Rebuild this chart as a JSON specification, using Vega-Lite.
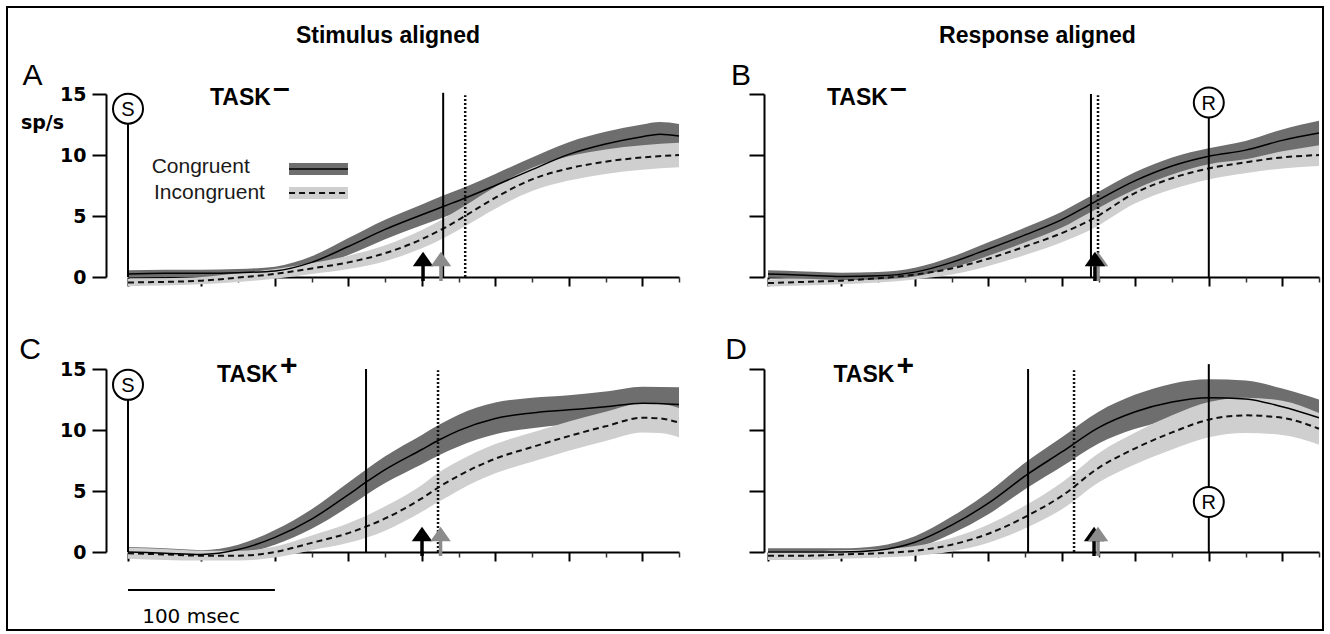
{
"$schema":"https://vega.github.io/schema/vega-lite/v6.json",
"autosize":{"type":"pad"},
"padding":{"left":6,"top":6,"right":6,"bottom":3},
"background":"white",
"columns":2,
"spacing":{"row":92,"column":89},
"bounds":"flush",
"datasets":{
"curves":[
{"p":"A","c":"Congruent","t":0,"m":0.25,"lo":-0.05,"hi":0.55},
{"p":"A","c":"Congruent","t":25,"m":0.3,"lo":0,"hi":0.6},
{"p":"A","c":"Congruent","t":50,"m":0.3,"lo":0,"hi":0.6},
{"p":"A","c":"Congruent","t":75,"m":0.35,"lo":0.05,"hi":0.65},
{"p":"A","c":"Congruent","t":100,"m":0.5,"lo":0.15,"hi":0.85},
{"p":"A","c":"Congruent","t":125,"m":1.2,"lo":0.7,"hi":1.7},
{"p":"A","c":"Congruent","t":150,"m":2.5,"lo":1.8,"hi":3.2},
{"p":"A","c":"Congruent","t":175,"m":3.9,"lo":3.1,"hi":4.7},
{"p":"A","c":"Congruent","t":200,"m":5.1,"lo":4.25,"hi":5.95},
{"p":"A","c":"Congruent","t":215,"m":5.8,"lo":4.9,"hi":6.7},
{"p":"A","c":"Congruent","t":230,"m":6.5,"lo":5.6,"hi":7.4},
{"p":"A","c":"Congruent","t":250,"m":7.5,"lo":6.55,"hi":8.45},
{"p":"A","c":"Congruent","t":275,"m":8.8,"lo":7.8,"hi":9.8},
{"p":"A","c":"Congruent","t":300,"m":10.05,"lo":9.05,"hi":11.05},
{"p":"A","c":"Congruent","t":325,"m":10.9,"lo":9.9,"hi":11.9},
{"p":"A","c":"Congruent","t":350,"m":11.5,"lo":10.5,"hi":12.5},
{"p":"A","c":"Congruent","t":362,"m":11.7,"lo":10.7,"hi":12.7},
{"p":"A","c":"Congruent","t":375,"m":11.55,"lo":10.55,"hi":12.55},
{"p":"A","c":"Incongruent","t":0,"m":-0.45,"lo":-0.75,"hi":-0.15},
{"p":"A","c":"Incongruent","t":25,"m":-0.4,"lo":-0.7,"hi":-0.1},
{"p":"A","c":"Incongruent","t":50,"m":-0.3,"lo":-0.6,"hi":0},
{"p":"A","c":"Incongruent","t":75,"m":-0.05,"lo":-0.4,"hi":0.3},
{"p":"A","c":"Incongruent","t":100,"m":0.25,"lo":-0.15,"hi":0.65},
{"p":"A","c":"Incongruent","t":125,"m":0.7,"lo":0.25,"hi":1.15},
{"p":"A","c":"Incongruent","t":150,"m":1.2,"lo":0.65,"hi":1.75},
{"p":"A","c":"Incongruent","t":175,"m":1.95,"lo":1.3,"hi":2.6},
{"p":"A","c":"Incongruent","t":200,"m":3.1,"lo":2.35,"hi":3.85},
{"p":"A","c":"Incongruent","t":215,"m":4.0,"lo":3.2,"hi":4.8},
{"p":"A","c":"Incongruent","t":230,"m":5.05,"lo":4.2,"hi":5.9},
{"p":"A","c":"Incongruent","t":250,"m":6.5,"lo":5.6,"hi":7.4},
{"p":"A","c":"Incongruent","t":275,"m":8.0,"lo":7.05,"hi":8.95},
{"p":"A","c":"Incongruent","t":300,"m":8.9,"lo":7.9,"hi":9.9},
{"p":"A","c":"Incongruent","t":325,"m":9.45,"lo":8.45,"hi":10.45},
{"p":"A","c":"Incongruent","t":350,"m":9.8,"lo":8.8,"hi":10.8},
{"p":"A","c":"Incongruent","t":375,"m":10.0,"lo":9.0,"hi":11.0},
{"p":"B","c":"Congruent","t":-300,"m":0.25,"lo":-0.05,"hi":0.55},
{"p":"B","c":"Congruent","t":-275,"m":0.15,"lo":-0.15,"hi":0.45},
{"p":"B","c":"Congruent","t":-250,"m":0.05,"lo":-0.25,"hi":0.35},
{"p":"B","c":"Congruent","t":-225,"m":0.1,"lo":-0.2,"hi":0.4},
{"p":"B","c":"Congruent","t":-200,"m":0.4,"lo":0.05,"hi":0.75},
{"p":"B","c":"Congruent","t":-175,"m":1.2,"lo":0.75,"hi":1.65},
{"p":"B","c":"Congruent","t":-150,"m":2.3,"lo":1.75,"hi":2.85},
{"p":"B","c":"Congruent","t":-125,"m":3.45,"lo":2.85,"hi":4.05},
{"p":"B","c":"Congruent","t":-100,"m":4.7,"lo":4.05,"hi":5.35},
{"p":"B","c":"Congruent","t":-80,"m":6.0,"lo":5.35,"hi":6.65},
{"p":"B","c":"Congruent","t":-50,"m":7.9,"lo":7.2,"hi":8.6},
{"p":"B","c":"Congruent","t":-25,"m":9.1,"lo":8.4,"hi":9.8},
{"p":"B","c":"Congruent","t":0,"m":9.9,"lo":9.25,"hi":10.55},
{"p":"B","c":"Congruent","t":25,"m":10.4,"lo":9.65,"hi":11.15},
{"p":"B","c":"Congruent","t":50,"m":11.2,"lo":10.3,"hi":12.1},
{"p":"B","c":"Congruent","t":75,"m":11.8,"lo":10.8,"hi":12.8},
{"p":"B","c":"Incongruent","t":-300,"m":-0.5,"lo":-0.8,"hi":-0.2},
{"p":"B","c":"Incongruent","t":-275,"m":-0.4,"lo":-0.7,"hi":-0.1},
{"p":"B","c":"Incongruent","t":-250,"m":-0.3,"lo":-0.6,"hi":0},
{"p":"B","c":"Incongruent","t":-225,"m":-0.1,"lo":-0.45,"hi":0.25},
{"p":"B","c":"Incongruent","t":-200,"m":0.2,"lo":-0.2,"hi":0.6},
{"p":"B","c":"Incongruent","t":-175,"m":0.7,"lo":0.2,"hi":1.2},
{"p":"B","c":"Incongruent","t":-150,"m":1.5,"lo":0.9,"hi":2.1},
{"p":"B","c":"Incongruent","t":-125,"m":2.5,"lo":1.8,"hi":3.2},
{"p":"B","c":"Incongruent","t":-100,"m":3.6,"lo":2.85,"hi":4.35},
{"p":"B","c":"Incongruent","t":-80,"m":4.7,"lo":3.9,"hi":5.5},
{"p":"B","c":"Incongruent","t":-50,"m":6.9,"lo":6.05,"hi":7.75},
{"p":"B","c":"Incongruent","t":-25,"m":8.1,"lo":7.2,"hi":9.0},
{"p":"B","c":"Incongruent","t":0,"m":8.9,"lo":8.0,"hi":9.8},
{"p":"B","c":"Incongruent","t":25,"m":9.4,"lo":8.5,"hi":10.3},
{"p":"B","c":"Incongruent","t":50,"m":9.8,"lo":8.9,"hi":10.7},
{"p":"B","c":"Incongruent","t":75,"m":10.0,"lo":9.1,"hi":10.9},
{"p":"C","c":"Congruent","t":0,"m":0.0,"lo":-0.4,"hi":0.4},
{"p":"C","c":"Congruent","t":25,"m":-0.1,"lo":-0.5,"hi":0.3},
{"p":"C","c":"Congruent","t":50,"m":-0.2,"lo":-0.55,"hi":0.15},
{"p":"C","c":"Congruent","t":75,"m":0.2,"lo":-0.2,"hi":0.6},
{"p":"C","c":"Congruent","t":100,"m":1.2,"lo":0.6,"hi":1.8},
{"p":"C","c":"Congruent","t":125,"m":2.7,"lo":1.9,"hi":3.5},
{"p":"C","c":"Congruent","t":150,"m":4.7,"lo":3.7,"hi":5.7},
{"p":"C","c":"Congruent","t":163,"m":5.8,"lo":4.75,"hi":6.85},
{"p":"C","c":"Congruent","t":175,"m":6.75,"lo":5.65,"hi":7.85},
{"p":"C","c":"Congruent","t":200,"m":8.4,"lo":7.2,"hi":9.6},
{"p":"C","c":"Congruent","t":212,"m":9.2,"lo":7.95,"hi":10.45},
{"p":"C","c":"Congruent","t":225,"m":9.95,"lo":8.65,"hi":11.25},
{"p":"C","c":"Congruent","t":250,"m":10.95,"lo":9.65,"hi":12.25},
{"p":"C","c":"Congruent","t":275,"m":11.4,"lo":10.15,"hi":12.65},
{"p":"C","c":"Congruent","t":300,"m":11.65,"lo":10.45,"hi":12.85},
{"p":"C","c":"Congruent","t":325,"m":11.9,"lo":10.65,"hi":13.15},
{"p":"C","c":"Congruent","t":350,"m":12.2,"lo":10.85,"hi":13.55},
{"p":"C","c":"Congruent","t":375,"m":12.1,"lo":10.7,"hi":13.5},
{"p":"C","c":"Incongruent","t":0,"m":-0.1,"lo":-0.55,"hi":0.35},
{"p":"C","c":"Incongruent","t":25,"m":-0.2,"lo":-0.65,"hi":0.25},
{"p":"C","c":"Incongruent","t":50,"m":-0.3,"lo":-0.7,"hi":0.1},
{"p":"C","c":"Incongruent","t":75,"m":-0.3,"lo":-0.7,"hi":0.1},
{"p":"C","c":"Incongruent","t":100,"m":0.0,"lo":-0.45,"hi":0.45},
{"p":"C","c":"Incongruent","t":125,"m":0.75,"lo":0.15,"hi":1.35},
{"p":"C","c":"Incongruent","t":150,"m":1.55,"lo":0.75,"hi":2.35},
{"p":"C","c":"Incongruent","t":175,"m":2.75,"lo":1.75,"hi":3.75},
{"p":"C","c":"Incongruent","t":200,"m":4.4,"lo":3.3,"hi":5.5},
{"p":"C","c":"Incongruent","t":212,"m":5.35,"lo":4.15,"hi":6.55},
{"p":"C","c":"Incongruent","t":225,"m":6.25,"lo":5.05,"hi":7.45},
{"p":"C","c":"Incongruent","t":250,"m":7.65,"lo":6.45,"hi":8.85},
{"p":"C","c":"Incongruent","t":275,"m":8.6,"lo":7.4,"hi":9.8},
{"p":"C","c":"Incongruent","t":300,"m":9.5,"lo":8.3,"hi":10.7},
{"p":"C","c":"Incongruent","t":325,"m":10.3,"lo":9.1,"hi":11.5},
{"p":"C","c":"Incongruent","t":350,"m":11.0,"lo":9.8,"hi":12.2},
{"p":"C","c":"Incongruent","t":362,"m":10.95,"lo":9.75,"hi":12.15},
{"p":"C","c":"Incongruent","t":375,"m":10.6,"lo":9.4,"hi":11.8},
{"p":"D","c":"Congruent","t":-300,"m":0.0,"lo":-0.3,"hi":0.3},
{"p":"D","c":"Congruent","t":-275,"m":0.0,"lo":-0.3,"hi":0.3},
{"p":"D","c":"Congruent","t":-250,"m":0.0,"lo":-0.3,"hi":0.3},
{"p":"D","c":"Congruent","t":-225,"m":0.15,"lo":-0.2,"hi":0.5},
{"p":"D","c":"Congruent","t":-200,"m":0.8,"lo":0.3,"hi":1.3},
{"p":"D","c":"Congruent","t":-175,"m":2.2,"lo":1.5,"hi":2.9},
{"p":"D","c":"Congruent","t":-150,"m":4.0,"lo":3.1,"hi":4.9},
{"p":"D","c":"Congruent","t":-123,"m":6.4,"lo":5.3,"hi":7.5},
{"p":"D","c":"Congruent","t":-100,"m":8.2,"lo":7.0,"hi":9.4},
{"p":"D","c":"Congruent","t":-75,"m":10.2,"lo":8.9,"hi":11.5},
{"p":"D","c":"Congruent","t":-50,"m":11.5,"lo":10.1,"hi":12.9},
{"p":"D","c":"Congruent","t":-25,"m":12.3,"lo":10.8,"hi":13.8},
{"p":"D","c":"Congruent","t":0,"m":12.65,"lo":11.15,"hi":14.15},
{"p":"D","c":"Congruent","t":25,"m":12.55,"lo":11.05,"hi":14.05},
{"p":"D","c":"Congruent","t":50,"m":11.9,"lo":10.4,"hi":13.4},
{"p":"D","c":"Congruent","t":75,"m":11.0,"lo":9.5,"hi":12.5},
{"p":"D","c":"Incongruent","t":-300,"m":-0.3,"lo":-0.65,"hi":0.05},
{"p":"D","c":"Incongruent","t":-275,"m":-0.3,"lo":-0.65,"hi":0.05},
{"p":"D","c":"Incongruent","t":-250,"m":-0.2,"lo":-0.55,"hi":0.15},
{"p":"D","c":"Incongruent","t":-225,"m":-0.1,"lo":-0.45,"hi":0.25},
{"p":"D","c":"Incongruent","t":-200,"m":0.1,"lo":-0.3,"hi":0.5},
{"p":"D","c":"Incongruent","t":-175,"m":0.6,"lo":0.05,"hi":1.15},
{"p":"D","c":"Incongruent","t":-150,"m":1.5,"lo":0.75,"hi":2.25},
{"p":"D","c":"Incongruent","t":-123,"m":3.0,"lo":2.05,"hi":3.95},
{"p":"D","c":"Incongruent","t":-100,"m":4.6,"lo":3.5,"hi":5.7},
{"p":"D","c":"Incongruent","t":-75,"m":6.9,"lo":5.7,"hi":8.1},
{"p":"D","c":"Incongruent","t":-50,"m":8.5,"lo":7.2,"hi":9.8},
{"p":"D","c":"Incongruent","t":-25,"m":9.8,"lo":8.4,"hi":11.2},
{"p":"D","c":"Incongruent","t":0,"m":10.85,"lo":9.4,"hi":12.3},
{"p":"D","c":"Incongruent","t":25,"m":11.2,"lo":9.75,"hi":12.65},
{"p":"D","c":"Incongruent","t":50,"m":11.0,"lo":9.6,"hi":12.4},
{"p":"D","c":"Incongruent","t":75,"m":10.1,"lo":8.8,"hi":11.4}
],
"events":[
{"p":"A","k":"solid","t":214.5,"base":0,"top":15.1},
{"p":"A","k":"dotted","t":229.5,"base":0,"top":14.9},
{"p":"B","k":"solid","t":-80.2,"base":0,"top":15},
{"p":"B","k":"dotted","t":-75.4,"base":0,"top":14.9},
{"p":"C","k":"solid","t":162,"base":0,"top":15},
{"p":"C","k":"dotted","t":211,"base":0,"top":14.9},
{"p":"D","k":"solid","t":-123,"base":0,"top":15},
{"p":"D","k":"dotted","t":-91.7,"base":0,"top":14.9}
],
"markers":[
{"p":"A","label":"S","t":0,"cy":13.8,"base":0,"top":13.8},
{"p":"B","label":"R","t":0,"cy":14.3,"base":0,"top":14.3},
{"p":"C","label":"S","t":0,"cy":13.7,"base":0,"top":13.7},
{"p":"D","label":"R","t":0,"cy":4.1,"base":0,"top":15.4}
],
"arrows":[
{"p":"A","c":"Congruent","t":200.8,"base":0},
{"p":"A","c":"Incongruent","t":213,"base":0},
{"p":"B","c":"Incongruent","t":-75.4,"base":0},
{"p":"B","c":"Congruent","t":-77.5,"base":0},
{"p":"C","c":"Congruent","t":200.1,"base":0},
{"p":"C","c":"Incongruent","t":212.7,"base":0},
{"p":"D","c":"Congruent","t":-78.1,"base":0},
{"p":"D","c":"Incongruent","t":-75.4,"base":0}
],
"labels":[
{"p":"A","letter":"A","lt":-65,"lv":15.74,"task":"TASK","sup":"–","tt":55.8,"tv":14.1},
{"p":"B","letter":"B","lt":-318.4,"lv":15.74,"task":"TASK","sup":"–","tt":-259.85,"tv":14.1},
{"p":"C","letter":"C","lt":-66.7,"lv":15.8,"task":"TASK","sup":"+","tt":60.6,"tv":13.93},
{"p":"D","letter":"D","lt":-321.8,"lv":15.8,"task":"TASK","sup":"+","tt":-255.4,"tv":13.93}
],
"headers":[
{"p":"A","label":"Stimulus aligned","t":176.95,"v":19.18},
{"p":"B","label":"Response aligned","t":-116.6,"v":19.18}
],
"legend":[
{"c":"Congruent","label":"Congruent","tx":16.1,"tv":8.52,"t1":109.6,"t2":149.7,"lo":8.36,"hi":9.34,"m":8.85},
{"c":"Incongruent","label":"Incongruent","tx":17.7,"tv":6.39,"t1":109.6,"t2":149.7,"lo":6.39,"hi":7.38,"m":6.89}
],
"frame":[{"t1":-82.35,"t2":813.3,"v1":-28.93,"v2":22.13}],
"scalebar":[{"t1":0,"t2":100,"v":-3.11,"label":"100 msec","tl":42.9,"vl":-5.82}]
},
"concat":[
{
"width":551,"height":183,
"resolve":{"axis":{"x":"independent","y":"independent"}},
"layer":[
{"data":{"name":"frame"},"mark":{"type":"rect","filled":false,"stroke":"#000","strokeWidth":2},
 "encoding":{"x":{"field":"t1","type":"quantitative","axis":null},"x2":{"field":"t2"},"y":{"field":"v1","type":"quantitative","axis":null},"y2":{"field":"v2"}}},
{"data":{"name":"curves"},"transform":[{"filter":"datum.p==='A' && datum.c==='Congruent'"}],
 "mark":{"type":"area","interpolate":"monotone","fill":"#6e6e6e","opacity":1},
 "encoding":{
  "x":{"field":"t","type":"quantitative","scale":{"domain":[0,375],"nice":false,"zero":false},
       "axis":{"orient":"bottom","values":[0,50,100,150,200,250,300,350],"labels":false,"title":null,"grid":false,"domainWidth":2,"domainColor":"#000","tickWidth":2,"tickSize":9,"tickColor":"#000"}},
  "y":{"field":"lo","type":"quantitative","scale":{"domain":[0,15],"nice":false,"zero":false},
       "axis":{"orient":"left","offset":22,"values":[0,5,10,15],"grid":false,"title":"sp/s","titleAngle":0,"titleX":-64,"titleY":34,"titleAlign":"center","titleBaseline":"alphabetic","titleFont":"DejaVu Sans","titleFontSize":19,"titleFontWeight":"bold","titleColor":"#000","labelFont":"DejaVu Sans","labelFontSize":19,"labelFontWeight":"bold","labelColor":"#000","labelPadding":6,"labelFlush":false,"tickSize":14,"tickWidth":2,"tickColor":"#000","domainWidth":2,"domainColor":"#000"}},
  "y2":{"field":"hi"}}},
{"data":{"name":"curves"},"transform":[{"filter":"datum.p==='A' && datum.c==='Incongruent'"}],
 "mark":{"type":"area","interpolate":"monotone","fill":"#cfcfcf","opacity":1},
 "encoding":{"x":{"field":"t","type":"quantitative","axis":null},"y":{"field":"lo","type":"quantitative","axis":null},"y2":{"field":"hi"}}},
{"data":{"name":"curves"},"transform":[{"filter":"datum.p==='A' && datum.c==='Incongruent'"}],
 "mark":{"type":"line","interpolate":"monotone","stroke":"#111","strokeWidth":2,"strokeDash":[6,4]},
 "encoding":{"x":{"field":"t","type":"quantitative",
   "axis":{"orient":"bottom","values":[25,75,125,175,225,275,325,375],"labels":false,"title":null,"grid":false,"domain":false,"tickWidth":1.5,"tickSize":5,"tickColor":"#333"}},
  "y":{"field":"m","type":"quantitative","axis":null}}},
{"data":{"name":"curves"},"transform":[{"filter":"datum.p==='A' && datum.c==='Congruent'"}],
 "mark":{"type":"line","interpolate":"monotone","stroke":"#000","strokeWidth":1.5},
 "encoding":{"x":{"field":"t","type":"quantitative","axis":null},"y":{"field":"m","type":"quantitative","axis":null}}},
{"data":{"name":"legend"},"mark":{"type":"rect"},
 "encoding":{"x":{"field":"t1","type":"quantitative","axis":null},"x2":{"field":"t2"},"y":{"field":"lo","type":"quantitative","axis":null},"y2":{"field":"hi"},
  "fill":{"field":"c","type":"nominal","scale":{"domain":["Congruent","Incongruent"],"range":["#6e6e6e","#cfcfcf"]},"legend":null}}},
{"data":{"name":"legend"},"transform":[{"filter":"datum.c==='Congruent'"}],"mark":{"type":"rule","stroke":"#000","strokeWidth":1.5},
 "encoding":{"x":{"field":"t1","type":"quantitative","axis":null},"x2":{"field":"t2"},"y":{"field":"m","type":"quantitative","axis":null}}},
{"data":{"name":"legend"},"transform":[{"filter":"datum.c==='Incongruent'"}],"mark":{"type":"rule","stroke":"#111","strokeWidth":2,"strokeDash":[6,4]},
 "encoding":{"x":{"field":"t1","type":"quantitative","axis":null},"x2":{"field":"t2"},"y":{"field":"m","type":"quantitative","axis":null}}},
{"data":{"name":"legend"},"mark":{"type":"text","align":"left","baseline":"alphabetic","font":"Liberation Sans","fontSize":21,"color":"#1a1a1a"},
 "encoding":{"x":{"field":"tx","type":"quantitative","axis":null},"y":{"field":"tv","type":"quantitative","axis":null},"text":{"field":"label","type":"nominal"}}},
{"data":{"name":"events"},"transform":[{"filter":"datum.p==='A' && datum.k==='solid'"}],"mark":{"type":"rule","stroke":"#000","strokeWidth":2},
 "encoding":{"x":{"field":"t","type":"quantitative","axis":null},"y":{"field":"base","type":"quantitative","axis":null},"y2":{"field":"top"}}},
{"data":{"name":"events"},"transform":[{"filter":"datum.p==='A' && datum.k==='dotted'"}],"mark":{"type":"rule","stroke":"#111","strokeWidth":2.5,"strokeDash":[2,2]},
 "encoding":{"x":{"field":"t","type":"quantitative","axis":null},"y":{"field":"base","type":"quantitative","axis":null},"y2":{"field":"top"}}},
{"data":{"name":"markers"},"transform":[{"filter":"datum.p==='A'"}],"mark":{"type":"rule","stroke":"#000","strokeWidth":2},
 "encoding":{"x":{"field":"t","type":"quantitative","axis":null},"y":{"field":"base","type":"quantitative","axis":null},"y2":{"field":"top"}}},
{"data":{"name":"markers"},"transform":[{"filter":"datum.p==='A'"}],"mark":{"type":"point","shape":"circle","size":900,"filled":true,"fill":"#fff","stroke":"#000","strokeWidth":2,"opacity":1},
 "encoding":{"x":{"field":"t","type":"quantitative","axis":null},"y":{"field":"cy","type":"quantitative","axis":null}}},
{"data":{"name":"markers"},"transform":[{"filter":"datum.p==='A'"}],"mark":{"type":"text","align":"center","baseline":"middle","dy":1,"font":"Liberation Sans","fontSize":20,"color":"#000"},
 "encoding":{"x":{"field":"t","type":"quantitative","axis":null},"y":{"field":"cy","type":"quantitative","axis":null},"text":{"field":"label","type":"nominal"}}},
{"data":{"name":"arrows"},"transform":[{"filter":"datum.p==='A'"}],"mark":{"type":"rule","strokeWidth":3.5,"yOffset":4,"y2Offset":-14},
 "encoding":{"x":{"field":"t","type":"quantitative","axis":null},"y":{"field":"base","type":"quantitative","axis":null},"y2":{"field":"base"},
  "color":{"field":"c","type":"nominal","scale":{"domain":["Congruent","Incongruent"],"range":["#000000","#8c8c8c"]},"legend":null}}},
{"data":{"name":"arrows"},"transform":[{"filter":"datum.p==='A'"}],"mark":{"type":"point","shape":"M0,-0.8L1,0.6L-1,0.6Z","size":420,"filled":true,"opacity":1,"yOffset":-17},
 "encoding":{"x":{"field":"t","type":"quantitative","axis":null},"y":{"field":"base","type":"quantitative","axis":null},
  "color":{"field":"c","type":"nominal","scale":{"domain":["Congruent","Incongruent"],"range":["#000000","#8c8c8c"]},"legend":null}}},
{"data":{"name":"labels"},"transform":[{"filter":"datum.p==='A'"}],"mark":{"type":"text","align":"left","baseline":"alphabetic","font":"Liberation Sans","fontSize":23,"fontWeight":"bold","color":"#000"},
 "encoding":{"x":{"field":"tt","type":"quantitative","axis":null},"y":{"field":"tv","type":"quantitative","axis":null},"text":{"field":"task","type":"nominal"}}},
{"data":{"name":"labels"},"transform":[{"filter":"datum.p==='A'"}],"mark":{"type":"text","align":"left","baseline":"alphabetic","dx":63,"dy":-7,"font":"Liberation Sans","fontSize":30,"fontWeight":"bold","color":"#000"},
 "encoding":{"x":{"field":"tt","type":"quantitative","axis":null},"y":{"field":"tv","type":"quantitative","axis":null},"text":{"field":"sup","type":"nominal"}}},
{"data":{"name":"labels"},"transform":[{"filter":"datum.p==='A'"}],"mark":{"type":"text","align":"center","baseline":"alphabetic","font":"Liberation Sans","fontSize":30,"color":"#000"},
 "encoding":{"x":{"field":"lt","type":"quantitative","axis":null},"y":{"field":"lv","type":"quantitative","axis":null},"text":{"field":"letter","type":"nominal"}}},
{"data":{"name":"headers"},"transform":[{"filter":"datum.p==='A'"}],"mark":{"type":"text","align":"center","baseline":"alphabetic","font":"Liberation Sans","fontSize":23,"fontWeight":"bold","color":"#000"},
 "encoding":{"x":{"field":"t","type":"quantitative","axis":null},"y":{"field":"v","type":"quantitative","axis":null},"text":{"field":"label","type":"nominal"}}}
]
},
{
"width":551,"height":183,
"resolve":{"axis":{"x":"independent","y":"independent"}},
"layer":[
{"data":{"name":"curves"},"transform":[{"filter":"datum.p==='B' && datum.c==='Incongruent'"}],
 "mark":{"type":"area","interpolate":"monotone","fill":"#cfcfcf","opacity":1},
 "encoding":{
  "x":{"field":"t","type":"quantitative","scale":{"domain":[-300,75],"nice":false,"zero":false},
       "axis":{"orient":"bottom","values":[-300,-250,-200,-150,-100,-50,0,50],"labels":false,"title":null,"grid":false,"domainWidth":2,"domainColor":"#000","tickWidth":2,"tickSize":9,"tickColor":"#000"}},
  "y":{"field":"lo","type":"quantitative","scale":{"domain":[0,15],"nice":false,"zero":false},
       "axis":{"orient":"left","offset":4,"values":[0,5,10,15],"grid":false,"title":null,"labels":false,"tickSize":15,"tickWidth":2,"tickColor":"#000","domainWidth":2,"domainColor":"#000"}},
  "y2":{"field":"hi"}}},
{"data":{"name":"curves"},"transform":[{"filter":"datum.p==='B' && datum.c==='Congruent'"}],
 "mark":{"type":"area","interpolate":"monotone","fill":"#6e6e6e","opacity":1},
 "encoding":{"x":{"field":"t","type":"quantitative","axis":null},"y":{"field":"lo","type":"quantitative","axis":null},"y2":{"field":"hi"}}},
{"data":{"name":"curves"},"transform":[{"filter":"datum.p==='B' && datum.c==='Incongruent'"}],
 "mark":{"type":"line","interpolate":"monotone","stroke":"#111","strokeWidth":2,"strokeDash":[6,4]},
 "encoding":{"x":{"field":"t","type":"quantitative",
   "axis":{"orient":"bottom","values":[-275,-225,-175,-125,-75,-25,25,75],"labels":false,"title":null,"grid":false,"domain":false,"tickWidth":1.5,"tickSize":5,"tickColor":"#333"}},
  "y":{"field":"m","type":"quantitative","axis":null}}},
{"data":{"name":"curves"},"transform":[{"filter":"datum.p==='B' && datum.c==='Congruent'"}],
 "mark":{"type":"line","interpolate":"monotone","stroke":"#000","strokeWidth":1.5},
 "encoding":{"x":{"field":"t","type":"quantitative","axis":null},"y":{"field":"m","type":"quantitative","axis":null}}},
{"data":{"name":"events"},"transform":[{"filter":"datum.p==='B' && datum.k==='solid'"}],"mark":{"type":"rule","stroke":"#000","strokeWidth":2},
 "encoding":{"x":{"field":"t","type":"quantitative","axis":null},"y":{"field":"base","type":"quantitative","axis":null},"y2":{"field":"top"}}},
{"data":{"name":"events"},"transform":[{"filter":"datum.p==='B' && datum.k==='dotted'"}],"mark":{"type":"rule","stroke":"#111","strokeWidth":2.5,"strokeDash":[2,2]},
 "encoding":{"x":{"field":"t","type":"quantitative","axis":null},"y":{"field":"base","type":"quantitative","axis":null},"y2":{"field":"top"}}},
{"data":{"name":"markers"},"transform":[{"filter":"datum.p==='B'"}],"mark":{"type":"rule","stroke":"#000","strokeWidth":2},
 "encoding":{"x":{"field":"t","type":"quantitative","axis":null},"y":{"field":"base","type":"quantitative","axis":null},"y2":{"field":"top"}}},
{"data":{"name":"markers"},"transform":[{"filter":"datum.p==='B'"}],"mark":{"type":"point","shape":"circle","size":900,"filled":true,"fill":"#fff","stroke":"#000","strokeWidth":2,"opacity":1},
 "encoding":{"x":{"field":"t","type":"quantitative","axis":null},"y":{"field":"cy","type":"quantitative","axis":null}}},
{"data":{"name":"markers"},"transform":[{"filter":"datum.p==='B'"}],"mark":{"type":"text","align":"center","baseline":"middle","dy":1,"font":"Liberation Sans","fontSize":20,"color":"#000"},
 "encoding":{"x":{"field":"t","type":"quantitative","axis":null},"y":{"field":"cy","type":"quantitative","axis":null},"text":{"field":"label","type":"nominal"}}},
{"data":{"name":"arrows"},"transform":[{"filter":"datum.p==='B'"}],"mark":{"type":"rule","strokeWidth":3.5,"yOffset":4,"y2Offset":-14},
 "encoding":{"x":{"field":"t","type":"quantitative","axis":null},"y":{"field":"base","type":"quantitative","axis":null},"y2":{"field":"base"},
  "color":{"field":"c","type":"nominal","scale":{"domain":["Congruent","Incongruent"],"range":["#000000","#8c8c8c"]},"legend":null}}},
{"data":{"name":"arrows"},"transform":[{"filter":"datum.p==='B'"}],"mark":{"type":"point","shape":"M0,-0.8L1,0.6L-1,0.6Z","size":420,"filled":true,"opacity":1,"yOffset":-17},
 "encoding":{"x":{"field":"t","type":"quantitative","axis":null},"y":{"field":"base","type":"quantitative","axis":null},
  "color":{"field":"c","type":"nominal","scale":{"domain":["Congruent","Incongruent"],"range":["#000000","#8c8c8c"]},"legend":null}}},
{"data":{"name":"labels"},"transform":[{"filter":"datum.p==='B'"}],"mark":{"type":"text","align":"left","baseline":"alphabetic","font":"Liberation Sans","fontSize":23,"fontWeight":"bold","color":"#000"},
 "encoding":{"x":{"field":"tt","type":"quantitative","axis":null},"y":{"field":"tv","type":"quantitative","axis":null},"text":{"field":"task","type":"nominal"}}},
{"data":{"name":"labels"},"transform":[{"filter":"datum.p==='B'"}],"mark":{"type":"text","align":"left","baseline":"alphabetic","dx":63,"dy":-7,"font":"Liberation Sans","fontSize":30,"fontWeight":"bold","color":"#000"},
 "encoding":{"x":{"field":"tt","type":"quantitative","axis":null},"y":{"field":"tv","type":"quantitative","axis":null},"text":{"field":"sup","type":"nominal"}}},
{"data":{"name":"labels"},"transform":[{"filter":"datum.p==='B'"}],"mark":{"type":"text","align":"center","baseline":"alphabetic","font":"Liberation Sans","fontSize":30,"color":"#000"},
 "encoding":{"x":{"field":"lt","type":"quantitative","axis":null},"y":{"field":"lv","type":"quantitative","axis":null},"text":{"field":"letter","type":"nominal"}}},
{"data":{"name":"headers"},"transform":[{"filter":"datum.p==='B'"}],"mark":{"type":"text","align":"center","baseline":"alphabetic","font":"Liberation Sans","fontSize":23,"fontWeight":"bold","color":"#000"},
 "encoding":{"x":{"field":"t","type":"quantitative","axis":null},"y":{"field":"v","type":"quantitative","axis":null},"text":{"field":"label","type":"nominal"}}}
]
},
{
"width":551,"height":183,
"resolve":{"axis":{"x":"independent","y":"independent"}},
"layer":[
{"data":{"name":"curves"},"transform":[{"filter":"datum.p==='C' && datum.c==='Congruent'"}],
 "mark":{"type":"area","interpolate":"monotone","fill":"#6e6e6e","opacity":1},
 "encoding":{
  "x":{"field":"t","type":"quantitative","scale":{"domain":[0,375],"nice":false,"zero":false},
       "axis":{"orient":"bottom","values":[0,50,100,150,200,250,300,350],"labels":false,"title":null,"grid":false,"domainWidth":2,"domainColor":"#000","tickWidth":2,"tickSize":9,"tickColor":"#000"}},
  "y":{"field":"lo","type":"quantitative","scale":{"domain":[0,15],"nice":false,"zero":false},
       "axis":{"orient":"left","offset":22,"values":[0,5,10,15],"grid":false,"title":null,"labelFont":"DejaVu Sans","labelFontSize":19,"labelFontWeight":"bold","labelColor":"#000","labelPadding":6,"labelFlush":false,"tickSize":14,"tickWidth":2,"tickColor":"#000","domainWidth":2,"domainColor":"#000"}},
  "y2":{"field":"hi"}}},
{"data":{"name":"curves"},"transform":[{"filter":"datum.p==='C' && datum.c==='Incongruent'"}],
 "mark":{"type":"area","interpolate":"monotone","fill":"#cfcfcf","opacity":1},
 "encoding":{"x":{"field":"t","type":"quantitative","axis":null},"y":{"field":"lo","type":"quantitative","axis":null},"y2":{"field":"hi"}}},
{"data":{"name":"curves"},"transform":[{"filter":"datum.p==='C' && datum.c==='Incongruent'"}],
 "mark":{"type":"line","interpolate":"monotone","stroke":"#111","strokeWidth":2,"strokeDash":[6,4]},
 "encoding":{"x":{"field":"t","type":"quantitative",
   "axis":{"orient":"bottom","values":[25,75,125,175,225,275,325,375],"labels":false,"title":null,"grid":false,"domain":false,"tickWidth":1.5,"tickSize":5,"tickColor":"#333"}},
  "y":{"field":"m","type":"quantitative","axis":null}}},
{"data":{"name":"curves"},"transform":[{"filter":"datum.p==='C' && datum.c==='Congruent'"}],
 "mark":{"type":"line","interpolate":"monotone","stroke":"#000","strokeWidth":1.5},
 "encoding":{"x":{"field":"t","type":"quantitative","axis":null},"y":{"field":"m","type":"quantitative","axis":null}}},
{"data":{"name":"events"},"transform":[{"filter":"datum.p==='C' && datum.k==='solid'"}],"mark":{"type":"rule","stroke":"#000","strokeWidth":2},
 "encoding":{"x":{"field":"t","type":"quantitative","axis":null},"y":{"field":"base","type":"quantitative","axis":null},"y2":{"field":"top"}}},
{"data":{"name":"events"},"transform":[{"filter":"datum.p==='C' && datum.k==='dotted'"}],"mark":{"type":"rule","stroke":"#111","strokeWidth":2.5,"strokeDash":[2,2]},
 "encoding":{"x":{"field":"t","type":"quantitative","axis":null},"y":{"field":"base","type":"quantitative","axis":null},"y2":{"field":"top"}}},
{"data":{"name":"markers"},"transform":[{"filter":"datum.p==='C'"}],"mark":{"type":"rule","stroke":"#000","strokeWidth":2},
 "encoding":{"x":{"field":"t","type":"quantitative","axis":null},"y":{"field":"base","type":"quantitative","axis":null},"y2":{"field":"top"}}},
{"data":{"name":"markers"},"transform":[{"filter":"datum.p==='C'"}],"mark":{"type":"point","shape":"circle","size":900,"filled":true,"fill":"#fff","stroke":"#000","strokeWidth":2,"opacity":1},
 "encoding":{"x":{"field":"t","type":"quantitative","axis":null},"y":{"field":"cy","type":"quantitative","axis":null}}},
{"data":{"name":"markers"},"transform":[{"filter":"datum.p==='C'"}],"mark":{"type":"text","align":"center","baseline":"middle","dy":1,"font":"Liberation Sans","fontSize":20,"color":"#000"},
 "encoding":{"x":{"field":"t","type":"quantitative","axis":null},"y":{"field":"cy","type":"quantitative","axis":null},"text":{"field":"label","type":"nominal"}}},
{"data":{"name":"arrows"},"transform":[{"filter":"datum.p==='C'"}],"mark":{"type":"rule","strokeWidth":3.5,"yOffset":4,"y2Offset":-14},
 "encoding":{"x":{"field":"t","type":"quantitative","axis":null},"y":{"field":"base","type":"quantitative","axis":null},"y2":{"field":"base"},
  "color":{"field":"c","type":"nominal","scale":{"domain":["Congruent","Incongruent"],"range":["#000000","#8c8c8c"]},"legend":null}}},
{"data":{"name":"arrows"},"transform":[{"filter":"datum.p==='C'"}],"mark":{"type":"point","shape":"M0,-0.8L1,0.6L-1,0.6Z","size":420,"filled":true,"opacity":1,"yOffset":-17},
 "encoding":{"x":{"field":"t","type":"quantitative","axis":null},"y":{"field":"base","type":"quantitative","axis":null},
  "color":{"field":"c","type":"nominal","scale":{"domain":["Congruent","Incongruent"],"range":["#000000","#8c8c8c"]},"legend":null}}},
{"data":{"name":"labels"},"transform":[{"filter":"datum.p==='C'"}],"mark":{"type":"text","align":"left","baseline":"alphabetic","font":"Liberation Sans","fontSize":23,"fontWeight":"bold","color":"#000"},
 "encoding":{"x":{"field":"tt","type":"quantitative","axis":null},"y":{"field":"tv","type":"quantitative","axis":null},"text":{"field":"task","type":"nominal"}}},
{"data":{"name":"labels"},"transform":[{"filter":"datum.p==='C'"}],"mark":{"type":"text","align":"left","baseline":"alphabetic","dx":63,"dy":-7,"font":"Liberation Sans","fontSize":30,"fontWeight":"bold","color":"#000"},
 "encoding":{"x":{"field":"tt","type":"quantitative","axis":null},"y":{"field":"tv","type":"quantitative","axis":null},"text":{"field":"sup","type":"nominal"}}},
{"data":{"name":"labels"},"transform":[{"filter":"datum.p==='C'"}],"mark":{"type":"text","align":"center","baseline":"alphabetic","font":"Liberation Sans","fontSize":30,"color":"#000"},
 "encoding":{"x":{"field":"lt","type":"quantitative","axis":null},"y":{"field":"lv","type":"quantitative","axis":null},"text":{"field":"letter","type":"nominal"}}},
{"data":{"name":"scalebar"},"mark":{"type":"rule","stroke":"#000","strokeWidth":2},
 "encoding":{"x":{"field":"t1","type":"quantitative","axis":null},"x2":{"field":"t2"},"y":{"field":"v","type":"quantitative","axis":null}}},
{"data":{"name":"scalebar"},"mark":{"type":"text","align":"center","baseline":"alphabetic","font":"DejaVu Sans","fontSize":20,"color":"#000"},
 "encoding":{"x":{"field":"tl","type":"quantitative","axis":null},"y":{"field":"vl","type":"quantitative","axis":null},"text":{"field":"label","type":"nominal"}}}
]
},
{
"width":551,"height":183,
"resolve":{"axis":{"x":"independent","y":"independent"}},
"layer":[
{"data":{"name":"curves"},"transform":[{"filter":"datum.p==='D' && datum.c==='Congruent'"}],
 "mark":{"type":"area","interpolate":"monotone","fill":"#6e6e6e","opacity":1},
 "encoding":{
  "x":{"field":"t","type":"quantitative","scale":{"domain":[-300,75],"nice":false,"zero":false},
       "axis":{"orient":"bottom","values":[-300,-250,-200,-150,-100,-50,0,50],"labels":false,"title":null,"grid":false,"domainWidth":2,"domainColor":"#000","tickWidth":2,"tickSize":9,"tickColor":"#000"}},
  "y":{"field":"lo","type":"quantitative","scale":{"domain":[0,15],"nice":false,"zero":false},
       "axis":{"orient":"left","offset":4,"values":[0,5,10,15],"grid":false,"title":null,"labels":false,"tickSize":15,"tickWidth":2,"tickColor":"#000","domainWidth":2,"domainColor":"#000"}},
  "y2":{"field":"hi"}}},
{"data":{"name":"curves"},"transform":[{"filter":"datum.p==='D' && datum.c==='Incongruent'"}],
 "mark":{"type":"area","interpolate":"monotone","fill":"#cfcfcf","opacity":1},
 "encoding":{"x":{"field":"t","type":"quantitative","axis":null},"y":{"field":"lo","type":"quantitative","axis":null},"y2":{"field":"hi"}}},
{"data":{"name":"curves"},"transform":[{"filter":"datum.p==='D' && datum.c==='Incongruent'"}],
 "mark":{"type":"line","interpolate":"monotone","stroke":"#111","strokeWidth":2,"strokeDash":[6,4]},
 "encoding":{"x":{"field":"t","type":"quantitative",
   "axis":{"orient":"bottom","values":[-275,-225,-175,-125,-75,-25,25,75],"labels":false,"title":null,"grid":false,"domain":false,"tickWidth":1.5,"tickSize":5,"tickColor":"#333"}},
  "y":{"field":"m","type":"quantitative","axis":null}}},
{"data":{"name":"curves"},"transform":[{"filter":"datum.p==='D' && datum.c==='Congruent'"}],
 "mark":{"type":"line","interpolate":"monotone","stroke":"#000","strokeWidth":1.5},
 "encoding":{"x":{"field":"t","type":"quantitative","axis":null},"y":{"field":"m","type":"quantitative","axis":null}}},
{"data":{"name":"events"},"transform":[{"filter":"datum.p==='D' && datum.k==='solid'"}],"mark":{"type":"rule","stroke":"#000","strokeWidth":2},
 "encoding":{"x":{"field":"t","type":"quantitative","axis":null},"y":{"field":"base","type":"quantitative","axis":null},"y2":{"field":"top"}}},
{"data":{"name":"events"},"transform":[{"filter":"datum.p==='D' && datum.k==='dotted'"}],"mark":{"type":"rule","stroke":"#111","strokeWidth":2.5,"strokeDash":[2,2]},
 "encoding":{"x":{"field":"t","type":"quantitative","axis":null},"y":{"field":"base","type":"quantitative","axis":null},"y2":{"field":"top"}}},
{"data":{"name":"markers"},"transform":[{"filter":"datum.p==='D'"}],"mark":{"type":"rule","stroke":"#000","strokeWidth":2},
 "encoding":{"x":{"field":"t","type":"quantitative","axis":null},"y":{"field":"base","type":"quantitative","axis":null},"y2":{"field":"top"}}},
{"data":{"name":"markers"},"transform":[{"filter":"datum.p==='D'"}],"mark":{"type":"point","shape":"circle","size":900,"filled":true,"fill":"#fff","stroke":"#000","strokeWidth":2,"opacity":1},
 "encoding":{"x":{"field":"t","type":"quantitative","axis":null},"y":{"field":"cy","type":"quantitative","axis":null}}},
{"data":{"name":"markers"},"transform":[{"filter":"datum.p==='D'"}],"mark":{"type":"text","align":"center","baseline":"middle","dy":1,"font":"Liberation Sans","fontSize":20,"color":"#000"},
 "encoding":{"x":{"field":"t","type":"quantitative","axis":null},"y":{"field":"cy","type":"quantitative","axis":null},"text":{"field":"label","type":"nominal"}}},
{"data":{"name":"arrows"},"transform":[{"filter":"datum.p==='D'"}],"mark":{"type":"rule","strokeWidth":3.5,"yOffset":4,"y2Offset":-14},
 "encoding":{"x":{"field":"t","type":"quantitative","axis":null},"y":{"field":"base","type":"quantitative","axis":null},"y2":{"field":"base"},
  "color":{"field":"c","type":"nominal","scale":{"domain":["Congruent","Incongruent"],"range":["#000000","#8c8c8c"]},"legend":null}}},
{"data":{"name":"arrows"},"transform":[{"filter":"datum.p==='D'"}],"mark":{"type":"point","shape":"M0,-0.8L1,0.6L-1,0.6Z","size":420,"filled":true,"opacity":1,"yOffset":-17},
 "encoding":{"x":{"field":"t","type":"quantitative","axis":null},"y":{"field":"base","type":"quantitative","axis":null},
  "color":{"field":"c","type":"nominal","scale":{"domain":["Congruent","Incongruent"],"range":["#000000","#8c8c8c"]},"legend":null}}},
{"data":{"name":"labels"},"transform":[{"filter":"datum.p==='D'"}],"mark":{"type":"text","align":"left","baseline":"alphabetic","font":"Liberation Sans","fontSize":23,"fontWeight":"bold","color":"#000"},
 "encoding":{"x":{"field":"tt","type":"quantitative","axis":null},"y":{"field":"tv","type":"quantitative","axis":null},"text":{"field":"task","type":"nominal"}}},
{"data":{"name":"labels"},"transform":[{"filter":"datum.p==='D'"}],"mark":{"type":"text","align":"left","baseline":"alphabetic","dx":63,"dy":-7,"font":"Liberation Sans","fontSize":30,"fontWeight":"bold","color":"#000"},
 "encoding":{"x":{"field":"tt","type":"quantitative","axis":null},"y":{"field":"tv","type":"quantitative","axis":null},"text":{"field":"sup","type":"nominal"}}},
{"data":{"name":"labels"},"transform":[{"filter":"datum.p==='D'"}],"mark":{"type":"text","align":"center","baseline":"alphabetic","font":"Liberation Sans","fontSize":30,"color":"#000"},
 "encoding":{"x":{"field":"lt","type":"quantitative","axis":null},"y":{"field":"lv","type":"quantitative","axis":null},"text":{"field":"letter","type":"nominal"}}}
]
}
],
"config":{"view":{"stroke":null},"font":"Liberation Sans","axis":{"grid":false}}
}
